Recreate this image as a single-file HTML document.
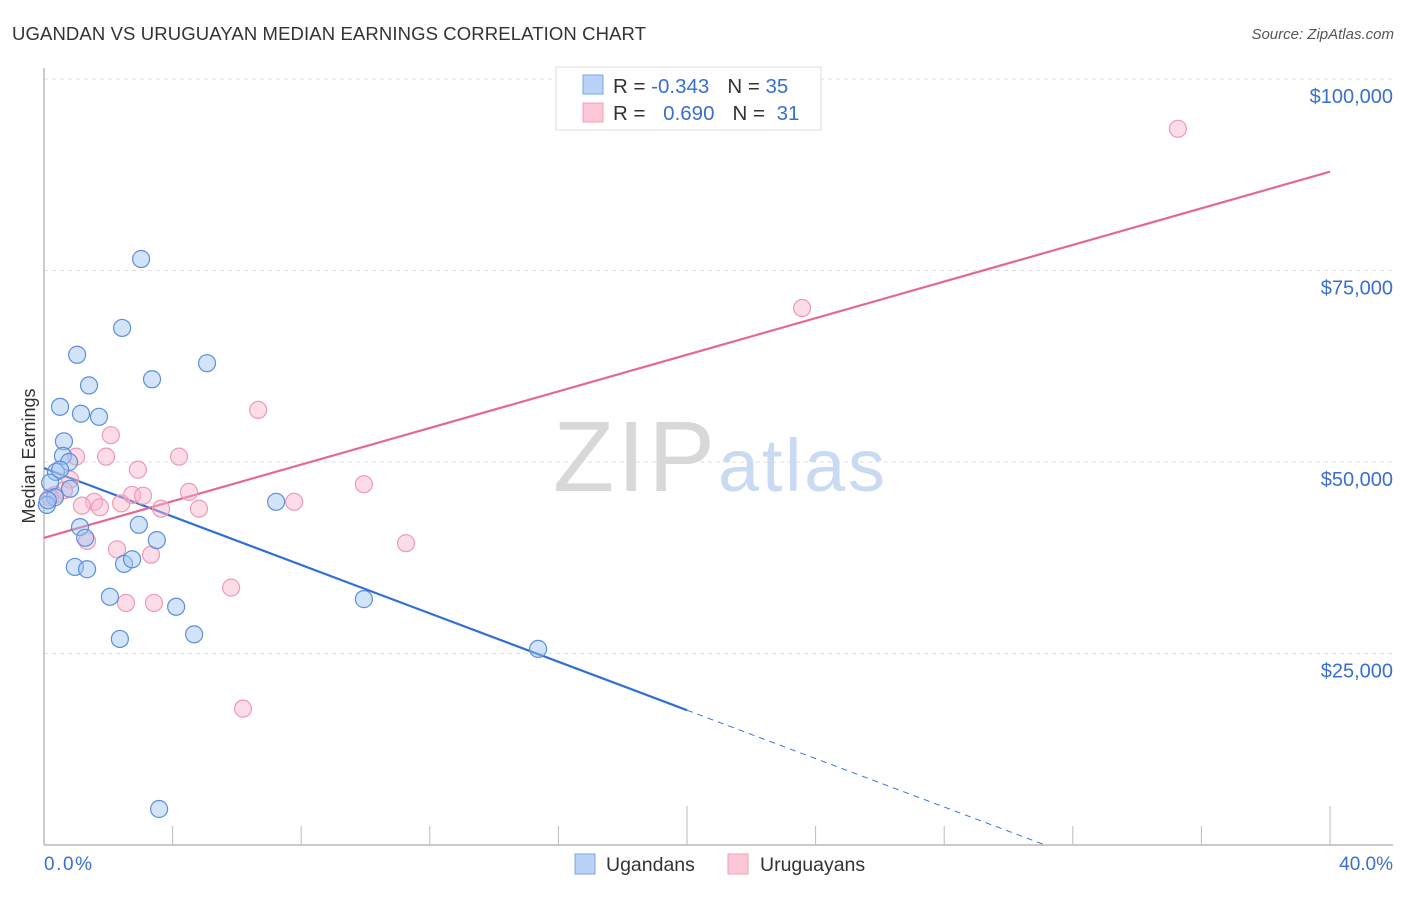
<!DOCTYPE html>
<html><head><meta charset="utf-8"><style>
body{margin:0;background:#fff;font-family:"Liberation Sans",sans-serif;}
svg text{font-family:"Liberation Sans",sans-serif;}
</style></head><body>
<svg width="1406" height="892" xmlns="http://www.w3.org/2000/svg">
<text x="12" y="40" font-size="18.5" fill="#333" textLength="634">UGANDAN VS URUGUAYAN MEDIAN EARNINGS CORRELATION CHART</text>
<text x="1394" y="39" font-size="15" fill="#555" text-anchor="end" font-style="italic">Source: ZipAtlas.com</text>
<g id="grid"></g>
<text x="553" y="491" font-size="100" fill="#d8d8d8" textLength="162" font-family="Liberation Serif">ZIP</text>
<text x="718" y="491" font-size="74" fill="#c9dbf3" textLength="167">atlas</text>
<line x1="44" y1="68" x2="44" y2="845" stroke="#aaa" stroke-width="1.2"/>
<line x1="44" y1="845" x2="1393" y2="845" stroke="#aaa" stroke-width="1.2"/>
<g id="ticks"></g>
<g id="ylabels"></g>
<text x="35" y="456" font-size="18" fill="#333" text-anchor="middle" transform="rotate(-90 35 456)">Median Earnings</text>
<text x="44" y="870" font-size="19" fill="#3a6fd0" textLength="48">0.0%</text>
<text x="1393" y="870" font-size="19" fill="#3a6fd0" text-anchor="end">40.0%</text>
<g id="lines"></g>
<g id="pts"></g>
<g>
<rect x="556" y="67" width="265" height="63" fill="#fff" stroke="#ddd"/>
<rect x="583" y="75" width="20" height="19" fill="#b8d3f7" stroke="#7aa5e0"/>
<rect x="583" y="103" width="20" height="19" fill="#fcc8d6" stroke="#eea0b8"/>
<text x="613" y="93" font-size="20.5" fill="#333">R = <tspan fill="#3a6fd0">-0.343</tspan><tspan dx="18">N = </tspan><tspan fill="#3a6fd0">35</tspan></text>
<text x="613" y="120" font-size="20.5" fill="#333">R = <tspan fill="#3a6fd0" dx="12">0.690</tspan><tspan dx="18">N = </tspan><tspan fill="#3a6fd0" dx="6">31</tspan></text>
</g>
<g>
<rect x="575" y="854" width="20" height="20" fill="#b8d3f7" stroke="#7aa5e0"/>
<text x="606" y="871" font-size="19.5" fill="#333">Ugandans</text>
<rect x="728" y="854" width="20" height="20" fill="#fcc8d6" stroke="#eea0b8"/>
<text x="760" y="871" font-size="19.5" fill="#333">Uruguayans</text>
</g>
</svg>
<script>
const yTicks=[25000,50000,75000,100000];
const yTickLabels=["$25,000","$50,000","$75,000","$100,000"];
const xTicks=[0,4,8,12,16,20,24,28,32,36,40];
const ugX=[3.02,2.43,1.03,3.36,5.07,1.40,0.50,1.15,1.71,0.62,0.59,0.78,0.37,0.81,0.19,0.34,0.09,1.12,1.28,2.95,3.51,0.96,1.34,2.49,2.74,2.05,4.11,2.36,4.67,3.58,7.22,9.95,15.37,0.12,0.50];
const ugY=[76500,67500,64000,60800,62900,60000,57200,56300,55900,52700,50800,50000,48700,46500,47300,45400,44400,41500,40100,41800,39800,36300,36000,36700,37300,32400,31100,26900,27500,4700,44800,32100,25600,45000,49000];
const urX=[35.27,23.58,6.66,2.08,1.00,1.93,4.20,2.92,0.81,0.62,0.34,1.56,2.40,2.74,3.08,4.51,1.18,1.74,3.64,4.82,7.78,9.95,1.34,2.27,3.33,11.26,5.82,2.55,3.42,6.19,0.19];
const urY=[93500,70100,56800,53500,50700,50700,50700,49000,47700,46300,45700,44800,44600,45700,45600,46100,44300,44100,43900,43900,44800,47100,39700,38600,37900,39400,33600,31600,31600,17800,45400];
const ugLine=[49200,-1580];
const urLine=[40100,1195];
const sx=v=>44+v/40*1286, sy=v=>845-v/25000*191.5;
const NS="http://www.w3.org/2000/svg";
function mk(t,a,p){const e=document.createElementNS(NS,t);for(const k in a)e.setAttribute(k,a[k]);p.appendChild(e);return e;}
const grid=document.getElementById('grid'),yl=document.getElementById('ylabels');
yTicks.forEach((v,i)=>{
 const l=mk('line',{x1:44,x2:1393,y1:sy(v),y2:sy(v),stroke:'#ddd','stroke-dasharray':'4,4'},grid);
 
 
 const t=mk('text',{x:1393,y:sy(v)+24,'font-size':20,fill:'#3a6fd0','text-anchor':'end'},yl);
 t.textContent=yTickLabels[i];
 
 
});
const tk=document.getElementById('ticks');
xTicks.forEach(v=>{
 if(v===0)return;
 const long=(v===20||v===40);
 const l=mk('line',{x1:sx(v),x2:sx(v),y1:long?806:826,y2:845,stroke:'#bbb'},tk);
 
 
});
const ln=document.getElementById('lines');
let a=mk('line',{x1:sx(0),y1:sy(ugLine[0]),x2:sx(20),y2:sy(ugLine[0]+ugLine[1]*20),stroke:'#2f6fd6','stroke-width':2.2},ln);


const xz=-ugLine[0]/ugLine[1];
a=mk('line',{x1:sx(20),y1:sy(ugLine[0]+ugLine[1]*20),x2:sx(xz),y2:sy(0),stroke:'#2f6fd6','stroke-width':1,'stroke-dasharray':'6,5'},ln);


a=mk('line',{x1:sx(0),y1:sy(urLine[0]),x2:sx(40),y2:sy(urLine[0]+urLine[1]*40),stroke:'#e4688f','stroke-width':2.2},ln);


const pts=document.getElementById('pts');
urX.forEach((x,i)=>{const c=mk('circle',{cx:sx(x),cy:sy(urY[i]),r:8.5,fill:'rgba(248,180,202,0.45)',stroke:'#ee9ab4','stroke-width':1.2},pts);
 
 });
ugX.forEach((x,i)=>{const c=mk('circle',{cx:sx(x),cy:sy(ugY[i]),r:8.5,fill:'rgba(160,196,240,0.45)',stroke:'#5b8fdb','stroke-width':1.2},pts);
 
 });
</script>
</body></html>
